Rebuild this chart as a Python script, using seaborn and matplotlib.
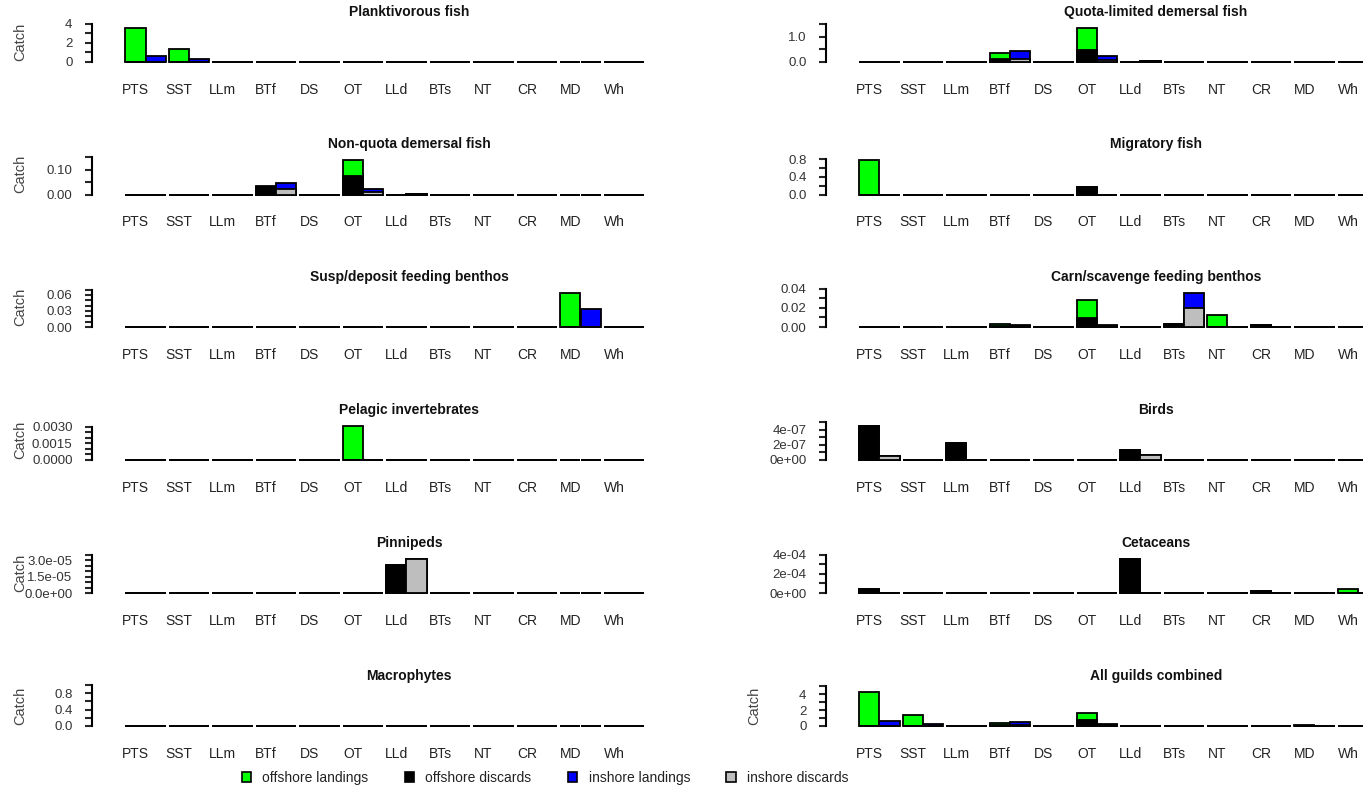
import numpy as np
import pandas as pd
import matplotlib
matplotlib.use("Agg")
import matplotlib.pyplot as plt
from matplotlib.patches import Patch
import seaborn as sns

gears = ["PTS", "SST", "LLm", "BTf", "DS", "OT", "LLd", "BTs", "NT", "CR", "MD", "Wh"]

# Catch by gear: offshore/inshore landings and discards
planktivorous = {
    "off_land": [3.55, 1.39, 0, 0, 0, 0, 0, 0, 0, 0, 0, 0],
    "off_disc": [0, 0, 0, 0, 0, 0, 0, 0, 0, 0, 0, 0],
    "in_land":  [0.60, 0.30, 0, 0, 0, 0, 0, 0, 0, 0, 0, 0],
    "in_disc":  [0, 0, 0, 0, 0, 0, 0, 0, 0, 0, 0, 0],
}
quota_demersal = {
    "off_land": [0, 0, 0, 0.25, 0, 0.89, 0, 0, 0, 0, 0, 0],
    "off_disc": [0, 0, 0, 0.11, 0, 0.47, 0, 0, 0, 0, 0, 0],
    "in_land":  [0, 0, 0, 0.32, 0, 0.16, 0.02, 0, 0, 0, 0, 0],
    "in_disc":  [0, 0, 0, 0.12, 0, 0.08, 0.02, 0, 0, 0, 0, 0],
}
nonquota_demersal = {
    "off_land": [0, 0, 0, 0.005, 0, 0.064, 0, 0, 0, 0, 0, 0],
    "off_disc": [0, 0, 0, 0.029, 0, 0.074, 0, 0, 0, 0, 0, 0],
    "in_land":  [0, 0, 0, 0.022, 0, 0.010, 0.001, 0, 0, 0, 0, 0],
    "in_disc":  [0, 0, 0, 0.024, 0, 0.012, 0.003, 0, 0, 0, 0, 0],
}
migratory = {
    "off_land": [0.77, 0, 0, 0, 0, 0, 0, 0, 0, 0, 0, 0],
    "off_disc": [0, 0, 0, 0, 0, 0.16, 0, 0, 0, 0, 0, 0],
    "in_land":  [0, 0, 0, 0, 0, 0, 0, 0, 0, 0, 0, 0],
    "in_disc":  [0, 0, 0, 0, 0, 0, 0, 0, 0, 0, 0, 0],
}
susp_benthos = {
    "off_land": [0, 0, 0, 0, 0, 0, 0, 0, 0, 0, 0.064, 0],
    "off_disc": [0, 0, 0, 0, 0, 0, 0, 0, 0, 0, 0, 0],
    "in_land":  [0, 0, 0, 0, 0, 0, 0, 0, 0, 0, 0.034, 0],
    "in_disc":  [0, 0, 0, 0, 0, 0, 0, 0, 0, 0, 0, 0],
}
carn_benthos = {
    "off_land": [0, 0, 0, 0.0017, 0, 0.0184, 0, 0, 0.0126, 0, 0, 0],
    "off_disc": [0, 0, 0, 0.0010, 0, 0.0096, 0, 0.0027, 0, 0.0017, 0, 0],
    "in_land":  [0, 0, 0, 0.0005, 0, 0.0005, 0, 0.0163, 0, 0, 0, 0],
    "in_disc":  [0, 0, 0, 0.0012, 0, 0.0012, 0, 0.0195, 0, 0, 0, 0],
}
pelagic_inverts = {
    "off_land": [0, 0, 0, 0, 0, 0.0031, 0, 0, 0, 0, 0, 0],
    "off_disc": [0, 0, 0, 0, 0, 0, 0, 0, 0, 0, 0, 0],
    "in_land":  [0, 0, 0, 0, 0, 0, 0, 0, 0, 0, 0, 0],
    "in_disc":  [0, 0, 0, 0, 0, 0, 0, 0, 0, 0, 0, 0],
}
birds = {
    "off_land": [0, 0, 0, 0, 0, 0, 0, 0, 0, 0, 0, 0],
    "off_disc": [4.55e-07, 0, 2.2e-07, 0, 0, 0, 1.28e-07, 0, 0, 0, 0, 0],
    "in_land":  [0, 0, 0, 0, 0, 0, 0, 0, 0, 0, 0, 0],
    "in_disc":  [0.55e-07, 0, 0, 0, 0, 0, 0.72e-07, 0, 0, 0, 0, 0],
}
pinnipeds = {
    "off_land": [0, 0, 0, 0, 0, 0, 0, 0, 0, 0, 0, 0],
    "off_disc": [0, 0, 0, 0, 0, 0, 2.55e-05, 0, 0, 0, 0, 0],
    "in_land":  [0, 0, 0, 0, 0, 0, 0, 0, 0, 0, 0, 0],
    "in_disc":  [0, 0, 0, 0, 0, 0, 3.15e-05, 0, 0, 0, 0, 0],
}
cetaceans = {
    "off_land": [0, 0, 0, 0, 0, 0, 0, 0, 0, 0, 0, 0.40e-04],
    "off_disc": [0.44e-04, 0, 0, 0, 0, 0, 3.56e-04, 0, 0, 0.17e-04, 0, 0],
    "in_land":  [0, 0, 0, 0, 0, 0, 0, 0, 0, 0, 0, 0],
    "in_disc":  [0.02e-04, 0, 0, 0, 0, 0, 0, 0, 0, 0, 0, 0],
}
macrophytes = {
    "off_land": [0, 0, 0, 0, 0, 0, 0, 0, 0, 0, 0, 0],
    "off_disc": [0, 0, 0, 0, 0, 0, 0, 0, 0, 0, 0, 0],
    "in_land":  [0, 0, 0, 0, 0, 0, 0, 0, 0, 0, 0, 0],
    "in_disc":  [0, 0, 0, 0, 0, 0, 0, 0, 0, 0, 0, 0],
}
all_guilds = {
    "off_land": [4.32, 1.39, 0, 0.26, 0, 0.99, 0, 0, 0.013, 0, 0.064, 0],
    "off_disc": [0, 0, 0, 0.14, 0, 0.71, 0.003, 0.003, 0, 0.002, 0, 0],
    "in_land":  [0.60, 0.30, 0, 0.34, 0, 0.17, 0.021, 0.016, 0, 0, 0.034, 0],
    "in_disc":  [0, 0, 0, 0.14, 0, 0.09, 0.023, 0.020, 0, 0, 0, 0],
}

# y-axis ticks and (sparse) tick labels per panel
plank_ticks, plank_labels = [0, 1, 2, 3, 4], ["0", "", "2", "", "4"]
quota_ticks, quota_labels = [0, 0.5, 1.0, 1.5], ["0.0", "", "1.0", ""]
nonq_ticks, nonq_labels = [0, 0.05, 0.10, 0.15], ["0.00", "", "0.10", ""]
migr_ticks, migr_labels = [0, 0.2, 0.4, 0.6, 0.8], ["0.0", "", "0.4", "", "0.8"]
susp_ticks = [0, 0.01, 0.02, 0.03, 0.04, 0.05, 0.06, 0.07]
susp_labels = ["0.00", "", "", "0.03", "", "", "0.06", ""]
carn_ticks, carn_labels = [0, 0.01, 0.02, 0.03, 0.04], ["0.00", "", "0.02", "", "0.04"]
pel_ticks = [0, 0.0005, 0.0010, 0.0015, 0.0020, 0.0025, 0.0030]
pel_labels = ["0.0000", "", "", "0.0015", "", "", "0.0030"]
bird_ticks = [0, 1e-07, 2e-07, 3e-07, 4e-07, 5e-07]
bird_labels = ["0e+00", "", "2e-07", "", "4e-07", ""]
pinn_ticks = [0, 5e-06, 1e-05, 1.5e-05, 2e-05, 2.5e-05, 3e-05, 3.5e-05]
pinn_labels = ["0.0e+00", "", "", "1.5e-05", "", "", "3.0e-05", ""]
ceta_ticks, ceta_labels = [0, 1e-04, 2e-04, 3e-04, 4e-04], ["0e+00", "", "2e-04", "", "4e-04"]
macro_ticks, macro_labels = [0, 0.2, 0.4, 0.6, 0.8, 1.0], ["0.0", "", "0.4", "", "0.8", ""]
all_ticks, all_labels = [0, 1, 2, 3, 4, 5], ["0", "", "2", "", "4", ""]

panels = [
    ("Planktivorous fish", planktivorous, plank_ticks, plank_labels, True),
    ("Quota-limited demersal fish", quota_demersal, quota_ticks, quota_labels, False),
    ("Non-quota demersal fish", nonquota_demersal, nonq_ticks, nonq_labels, True),
    ("Migratory fish", migratory, migr_ticks, migr_labels, False),
    ("Susp/deposit feeding benthos", susp_benthos, susp_ticks, susp_labels, True),
    ("Carn/scavenge feeding benthos", carn_benthos, carn_ticks, carn_labels, False),
    ("Pelagic invertebrates", pelagic_inverts, pel_ticks, pel_labels, True),
    ("Birds", birds, bird_ticks, bird_labels, False),
    ("Pinnipeds", pinnipeds, pinn_ticks, pinn_labels, True),
    ("Cetaceans", cetaceans, ceta_ticks, ceta_labels, False),
    ("Macrophytes", macrophytes, macro_ticks, macro_labels, True),
    ("All guilds combined", all_guilds, all_ticks, all_labels, True),
]

GREEN, BLACK, BLUE, GREY = "#00FF00", "#000000", "#0000FF", "#BEBEBE"

sns.set_theme(style="white")
plt.rcParams["font.family"] = ["Liberation Sans", "DejaVu Sans"]

W, H = 1363, 790
fig = plt.figure(figsize=(W / 100, H / 100), dpi=100)

col_axis_x = [92, 826]
col_width = [634, 660]
row_base_y = [62, 194.5, 327, 460, 593, 726]
ax_h = 41
pitch = 43.5
x_left = -(145.5 - 92) / pitch
PX = 72 / 100  # points per pixel

for k, (title, d, ticks, tlabels, show_ylab) in enumerate(panels):
    r, c = divmod(k, 2)
    left = col_axis_x[c]
    ax_w = col_width[c]
    base = row_base_y[r]
    ax = fig.add_axes([left / W, 1 - base / H, ax_w / W, ax_h / H])

    rows = []
    for i, g in enumerate(gears):
        rows.append(dict(gear=g, side="offshore",
                         total=d["off_land"][i] + d["off_disc"][i], disc=d["off_disc"][i]))
        rows.append(dict(gear=g, side="inshore",
                         total=d["in_land"][i] + d["in_disc"][i], disc=d["in_disc"][i]))
    df = pd.DataFrame(rows)

    common = dict(data=df, x="gear", hue="side", order=gears,
                  hue_order=["offshore", "inshore"], dodge=True, width=0.92,
                  gap=0, edgecolor="black", linewidth=1.3, errorbar=None,
                  legend=False, saturation=1, ax=ax)
    sns.barplot(y="total", palette={"offshore": GREEN, "inshore": BLUE}, **common)
    sns.barplot(y="disc", palette={"offshore": BLACK, "inshore": GREY}, **common)
    for p in ax.patches:
        p.set_clip_on(False)

    vmax = df["total"].max()
    top = 1.2 * vmax if vmax > 0 else ticks[-1]
    ax.set_ylim(0, top)
    ax.set_xlim(x_left, x_left + ax_w / pitch)

    for s in ["top", "right", "bottom"]:
        ax.spines[s].set_visible(False)
    ax.spines["left"].set_linewidth(1.5)
    ax.spines["left"].set_color("black")
    ax.spines["left"].set_bounds(0, ticks[-1])
    ax.set_yticks(ticks)
    ax.set_yticklabels(tlabels)
    ax.tick_params(axis="y", direction="out", length=5, width=1.5, pad=9,
                   labelsize=9.5, labelcolor="#333333", left=True)
    ax.set_xticks([])
    ax.set_xlabel("")
    ax.set_ylabel("")

    for i, g in enumerate(gears):
        ax.annotate(g, xy=(i - 0.23, 0), xycoords=("data", "axes fraction"),
                    xytext=(0, -28 * PX), textcoords="offset points",
                    ha="center", va="center", fontsize=10, color="#222222",
                    annotation_clip=False)

    ax.annotate(title, xy=(0.5, 1), xycoords="axes fraction",
                xytext=(0, 9 * PX), textcoords="offset points",
                ha="center", va="center", fontsize=10, fontweight="bold",
                color="#111111")

    if show_ylab:
        ax.annotate("Catch", xy=(0, 0.5), xycoords="axes fraction",
                    xytext=(-72 * PX, 0), textcoords="offset points",
                    ha="center", va="center", rotation=90, fontsize=10.5,
                    color="#444444")

handles = [Patch(facecolor=col, edgecolor="black", linewidth=1.2)
           for col in (GREEN, BLACK, BLUE, GREY)]
fig.legend(handles, ["offshore landings", "offshore discards",
                     "inshore landings", "inshore discards"],
           loc="center", bbox_to_anchor=(545 / W, 1 - 778 / H), ncol=4,
           frameon=False, handlelength=0.7, handleheight=0.7,
           handletextpad=0.8, columnspacing=2.6,
           prop={"size": 10})
for t in fig.legends[0].get_texts():
    t.set_color("#222222")

fig.savefig("out.png", dpi=100)
